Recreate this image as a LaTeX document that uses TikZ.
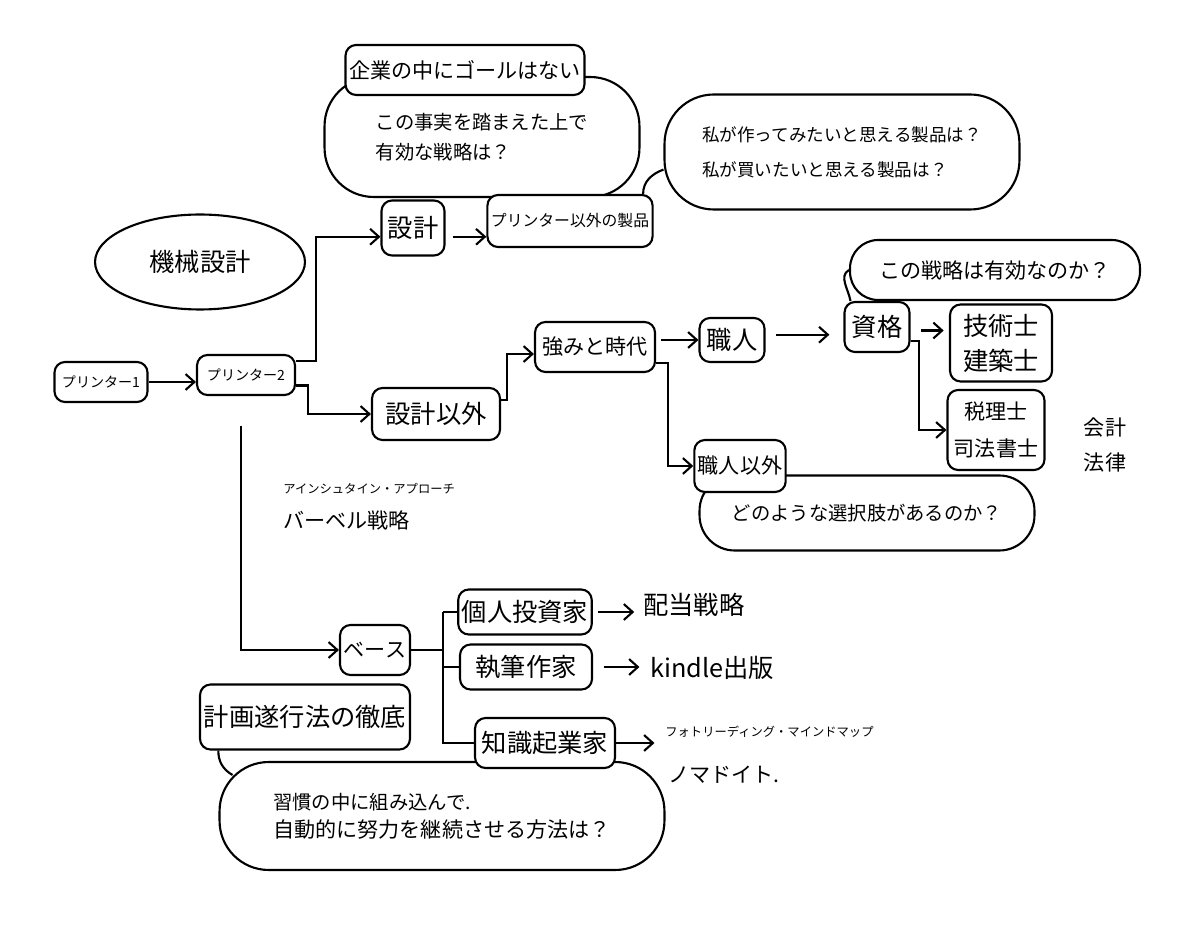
\documentclass[tikz,border=0pt]{standalone}
\usepackage{fontspec}
\setmainfont{Noto Sans CJK JP}
\usepackage{tikz}
\usetikzlibrary{arrows.meta,shapes.geometric,positioning}
\newcommand{\qsize}{\fontsize{11}{17}\selectfont}
\tikzset{
  box/.style={draw, fill=white, rounded corners=6pt, line width=1.2pt, align=center, inner sep=2pt},
  bubble/.style={draw, rounded corners=28pt, line width=1.2pt, align=left, inner sep=2pt},
  note/.style={align=left, inner sep=0pt},
  link/.style={line width=1.2pt},
  arr/.style={->, line width=1.2pt},
}

\begin{document}
\begin{tikzpicture}[x=0.02cm, y=-0.02cm, >={Straight Barb[length=5pt,width=9pt]}]
\useasboundingbox (0,0) rectangle (1200,945);

% questions first, the boxes sit on top of them
\node[bubble, minimum width=6.3cm, minimum height=2.4cm, font=\qsize] (goalq) at (482,137)
  {この事実を踏まえた上で\\有効な戦略は？};
\node[box, minimum width=4.6cm, minimum height=1cm, font=\large] (goal) at (465,70) {企業の中にゴールはない};
\node[bubble, minimum width=7.1cm, minimum height=2.3cm] (seihinq) at (842,152)
  {私が作ってみたいと思える製品は？\\[8pt]私が買いたいと思える製品は？};
\node[bubble, rounded corners=16pt, minimum width=5.8cm, minimum height=1.2cm, font=\large] (senryakuq) at (995,270)
  {この戦略は有効なのか？};
\node[bubble, rounded corners=20pt, minimum width=6.7cm, minimum height=1.5cm, font=\qsize] (sentakuq) at (867,513)
  {どのような選択肢があるのか？};
\node[bubble, minimum width=8.9cm, minimum height=2.16cm] (shukanq) at (442,816)
  {{\qsize 習慣の中に組み込んで.}\\[4pt]{\large 自動的に努力を継続させる方法は？}};

\node[draw, ellipse, line width=1.2pt, minimum width=4.2cm, minimum height=1.9cm, font=\Large] (kikai) at (200,262) {機械設計};

% main flow
\node[box, minimum width=1.86cm, minimum height=0.8cm, font=\footnotesize] (pr1) at (101,382) {プリンター1};
\node[box, minimum width=1.96cm, minimum height=0.8cm, font=\footnotesize] (pr2) at (246,375) {プリンター2};
\node[box, minimum width=1.26cm, minimum height=1.1cm, font=\Large] (sekkei) at (413,228) {設計};
\node[box, minimum width=3.2cm, minimum height=1.04cm, font=\small] (seihin) at (570,221) {プリンター以外の製品};
\node[box, minimum width=2.56cm, minimum height=1.04cm, font=\Large] (igai) at (436,414) {設計以外};
\node[box, minimum width=2.4cm, minimum height=1cm, font=\large] (tsuyomi) at (595,347) {強みと時代};
\node[box, minimum width=1.3cm, minimum height=0.88cm, font=\Large] (shokunin) at (732,340) {職人};
\node[box, minimum width=1.8cm, minimum height=1.04cm, font=\large] (hishokunin) at (740,466) {職人以外};
\node[box, minimum width=1.3cm, minimum height=1cm, font=\Large] (shikaku) at (877,327) {資格};
\node[box, minimum width=2.04cm, minimum height=1.54cm, font=\Large] (gijutsu) at (1001,343) {技術士\\[2pt]建築士};
\node[box, minimum width=1.94cm, minimum height=1.6cm, font=\large] (zeiri) at (996,430) {税理士\\[7pt]司法書士};
\node[note, align=center, font=\large] (kaikei) at (1105,445) {会計\\[6pt]法律};
\node[note, anchor=west] (barbell) at (283,507)
  {{\scriptsize アインシュタイン・アプローチ}\\[8pt]{\large バーベル戦略}};

% base
\node[box, minimum width=1.4cm, minimum height=1cm, font=\large] (base) at (375,650) {ベース};
\node[box, minimum width=2.6cm, minimum height=0.9cm, font=\Large] (kojin) at (525,612) {個人投資家};
\node[box, minimum width=2.64cm, minimum height=0.9cm, font=\Large] (shippitsu) at (526,667) {執筆作家};
\node[box, minimum width=2.8cm, minimum height=1cm, font=\Large] (chishiki) at (545,743) {知識起業家};
\node[note, anchor=west, font=\Large] (haitou) at (643,605) {配当戦略};
\node[note, anchor=west, font=\Large] (kindle) at (650,668) {kindle出版};
\node[note, anchor=west, font=\scriptsize] (photo) at (665,732) {フォトリーディング・マインドマップ};
\node[note, anchor=west, font=\large] (nomad) at (668,775) {ノマドイト.};
\node[box, minimum width=4.2cm, minimum height=1.3cm, font=\Large] (keikaku) at (305,717) {計画遂行法の徹底};

% connectors
\draw[arr] (pr1.east) -- (pr1.east -| pr2.west);
\draw[arr] ([yshift=8pt]pr2.east) -- ++(20,0) |- ([yshift=-5pt]sekkei.west);
\draw[arr] ([yshift=-6pt]pr2.east) -- ++(12,0) |- (igai.west);
\draw[arr, shorten <=4pt] ([yshift=-5pt]sekkei.east) -- ([yshift=-5pt]sekkei.east -| seihin.west);
\draw[link] ([xshift=-6pt]seihin.north east) to[out=90,in=200] ([yshift=-10pt]seihinq.west);
\draw[arr] ([yshift=8pt]igai.east) -- ++(6,0) |- ([yshift=-4pt]tsuyomi.west);
\draw[arr, shorten <=3pt] ([yshift=4pt]tsuyomi.east) -- ([yshift=4pt]tsuyomi.east -| shokunin.west);
\draw[arr] ([yshift=-9pt]tsuyomi.east) -- ++(12,0) |- (hishokunin.west);
\draw[arr, shorten <=6pt, shorten >=8pt] ([yshift=3pt]shokunin.east) -- ([yshift=3pt]shokunin.east -| shikaku.west);
\draw[arr, shorten <=6pt, shorten >=3pt] ([yshift=-2pt]shikaku.east) -- ([yshift=-2pt]shikaku.east -| gijutsu.west);
\draw[arr] ([yshift=-8pt]shikaku.east) -- ++(8,0) |- (zeiri.west);
\draw[link] (senryakuq.west) to[out=210,in=100] ([xshift=4pt]shikaku.north west);

\draw[arr, shorten <=0.6cm] ([xshift=-3pt]pr2.south) |- (base.west);
\draw[link] (base.east) -- ++(32,0) coordinate (fork);
\draw[link] (fork |- kojin.west) -- (fork |- chishiki.west) -- (chishiki.west);
\draw[link] (fork |- kojin.west) -- (kojin.west);
\draw[link] (fork |- shippitsu.west) -- (shippitsu.west);
\draw[arr, shorten <=3pt, shorten >=5pt] (kojin.east) -- (kojin.east -| haitou.west);
\draw[arr, shorten <=6pt, shorten >=6pt] (shippitsu.east) -- (shippitsu.east -| kindle.west);
\draw[arr, shorten >=6pt] (chishiki.east) -- (chishiki.east -| photo.west);
\draw[link] ([xshift=11pt]keikaku.south west) to[out=-90,in=150] ([xshift=8pt,yshift=-8pt]shukanq.north west);
\end{tikzpicture}
\end{document}
